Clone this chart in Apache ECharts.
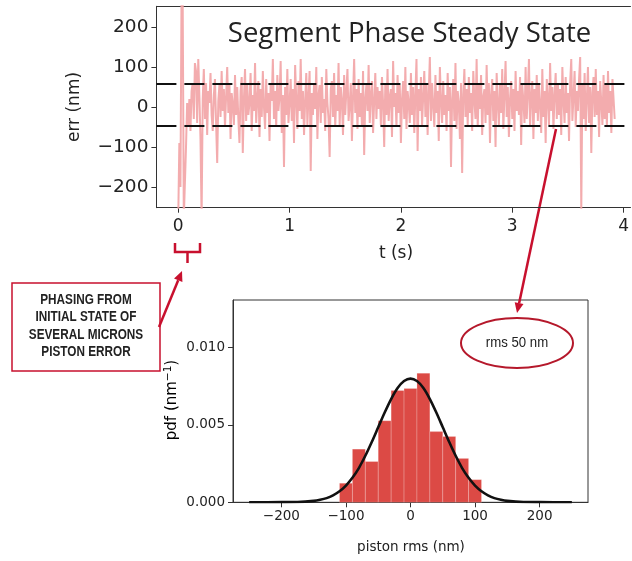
<!DOCTYPE html>
<html><head><meta charset="utf-8">
<script src="https://cdn.jsdelivr.net/npm/echarts@6/dist/echarts.min.js"></script>
<style>html,body{margin:0;padding:0;background:#fff;overflow:hidden}#c{width:632px;height:561px}</style>
</head><body><div id="c"></div>
<script>
// ---- top panel: segment piston error vs time (nm), one sample every 0.01 s ----
const sampleStep = 0.01;
const errValues = [
 -280, -90, -200, 300, 280, -280, -280, -100, 10, -50, 20, -60, 40, 60, -30, 110, 90, -40, 120, 30, -80, -280,
 20, 95, -30, 60, -70, 40, 10, 85, -20, -60, 30, 70, -40, -140, 15, 55, -25, 90, -10, 45,
 -50, 25, 100, -15, 60, -80, 35, 5, -45, 80, -20, 50, -30, -90, 40, 75, -115, 20, 95, -35,
 55, -20, 10, 85, -60, 30, -10, 110, -40, 20, 65, -75, 45, -25, 90, 0, -55, 70, -15, 35,
 -85, 60, 15, 120, -30, 40, -50, 80, -10, 25, 115, -65, 30, -150, 50, -20, 95, -40, 10, 70,
 -35, 45, -90, 105, 20, -55, 65, -10, 120, -30, 40, -70, 15, 85, -45, 25, 90, -160, 35, -20,
 60, -5, 100, -80, 30, 55, -40, 75, -15, 20, -60, 95, 10, -30, -125, 45, 65, -25, 85, -50,
 30, -10, 110, -45, 50, 15, -70, 80, -20, 40, 95, -35, 5, 60, -85, 25, 120, -15, 45, -55,
 70, -25, 35, -50, 90, -120, 20, 55, -10, 105, -40, 30, 65, -65, 15, 85, -30, 50, -5, 40,
 -45, 75, 10, -100, 60, -20, 95, -35, 25, 45, -75, 115, 0, 35, -50, 80, -15, 55, -90, 20,
 65, -30, 100, -55, 40, 10, -40, 85, -20, 50, -65, 30, 120, -110, 45, -10, 75, -45, 25, 90,
 -25, 55, -70, 35, 125, -35, 60, 5, -50, 80, -15, 40, -85, 100, 15, -40, 65, -20, 30, -60,
 85, -10, 50, -150, 20, 70, -35, 110, -55, 40, 10, -80, 60, -165, 30, 95, -25, 45, -45, 75,
 -15, 35, -60, 90, 15, -30, 120, -50, 55, -5, 80, -70, 25, 45, -40, 105, -20, 60, -90, 30,
 70, -35, 40, -100, 85, 10, -45, 60, -15, 95, -55, 30, 115, -25, 50, -75, 20, 65, -30, 45,
 -60, 90, -10, 40, -20, 75, -95, 55, 15, -40, 100, -30, 35, 120, -50, 25, 65, -80, 45, -15,
 80, -35, 55, 5, -65, 95, -25, 40, -90, 70, 20, -45, 110, -10, 50, -55, 30, 85, -30, 60,
 -20, 45, -70, 100, 15, -40, 75, -15, 35, -85, 60, 120, -35, 25, 90, -50, 40, -10, 70, 125,
 -260, 55, -30, 85, -60, 20, 100, -40, 50, -115, 35, 75, -25, 95, -20, 40, -75, 65, 10, -45,
 80, -30, 55, -50, 90, -15, 40, -65, 70, 20, -30
];
const bandLevels = [57, -48];
const timeTicks = [0, 1, 2, 3, 4];
const errTicks = [-200, -100, 0, 100, 200];

// ---- bottom panel: histogram of piston error + fitted normal pdf ----
const binEdges = [-110, -90, -70, -50, -30, -10, 10, 30, 50, 70, 90, 110];
const binHeights = [0.00123, 0.00343, 0.00263, 0.00526, 0.00721, 0.00734, 0.00833, 0.00456, 0.00425, 0.00283, 0.00146];
const gaussX = [-250,-200,-175,-150,-140,-130,-120,-110,-100,-90,-80,-70,-60,-50,-40,-30,-20,-10,0,10,20,30,40,50,60,70,80,90,100,110,120,130,140,150,175,200,250];
const gaussY = [0,0.00001,0.00002,0.00009,0.00016,0.00027,0.00045,0.00071,0.00108,0.00158,0.00221,0.00300,0.00389,0.00484,0.00579,0.00666,0.00737,0.00782,0.00798,0.00782,0.00737,0.00666,0.00579,0.00484,0.00389,0.00300,0.00221,0.00158,0.00108,0.00071,0.00045,0.00027,0.00016,0.00009,0.00002,0.00001,0];
const pistonTicks = [-200, -100, 0, 100, 200];
const pdfTicks = [0, 0.005, 0.010];

const errData = errValues.map((v, i) => [i * sampleStep, v]);
const histData = binHeights.map((h, i) => [binEdges[i], binEdges[i + 1], h]);
const gaussData = gaussX.map((x, i) => [x, gaussY[i]]);

const minus = s => String(s).replace('-', '\u2212');
const FONT = 'DejaVu Sans';
const axisCommon = (fs, margin) => ({
  axisLine: { show: true, onZero: false, lineStyle: { color: '#333', width: 1 } },
  axisTick: { show: true, length: 5, lineStyle: { color: '#333' } },
  splitLine: { show: false },
  axisLabel: { fontFamily: FONT, fontSize: fs, color: '#222', margin: margin }
});

const RED = '#c8102e';
const T_MIN = -0.196, T_MAX = 4.062;
const chart = echarts.init(document.getElementById('c'), null, { renderer: 'canvas' });
chart.setOption({
  animation: false,
  backgroundColor: '#fff',
  grid: [
    { left: 156.4, top: 6.3, right: 0, height: 201.4, show: false },
    { left: 233, top: 300, width: 355, height: 202.3, show: true, borderColor: '#333', borderWidth: 1, backgroundColor: 'transparent' }
  ],
  xAxis: [
    Object.assign(axisCommon(17, 10), { type: 'value', gridIndex: 0, min: T_MIN, max: T_MAX }),
    Object.assign(axisCommon(13.5, 7), { type: 'value', gridIndex: 1, min: -275, max: 275 }),
    { type: 'value', gridIndex: 0, position: 'top', min: T_MIN, max: T_MAX,
      axisLine: { show: true, onZero: false, lineStyle: { color: '#333', width: 1 } }, axisTick: { show: false }, axisLabel: { show: false }, splitLine: { show: false } }
  ],
  yAxis: [
    Object.assign(axisCommon(18.5, 8), { type: 'value', gridIndex: 0, min: -252, max: 252 }),
    Object.assign(axisCommon(13.5, 8), { type: 'value', gridIndex: 1, min: 0, max: 0.01305 })
  ],
  series: [
    {
      type: 'line', xAxisIndex: 0, yAxisIndex: 0, data: errData, showSymbol: false, clip: true,
      lineStyle: { color: '#f2a3a5', width: 2, opacity: 0.9 },
      markLine: {
        silent: true, symbol: 'none', label: { show: false },
        lineStyle: { color: '#111', type: [20, 8], width: 2 },
        data: bandLevels.map(v => ({ yAxis: v }))
      }
    },
    {
      type: 'custom', xAxisIndex: 1, yAxisIndex: 1, data: histData,
      renderItem: (params, api) => {
        const p0 = api.coord([api.value(0), api.value(2)]);
        const p1 = api.coord([api.value(1), 0]);
        return { type: 'rect', shape: { x: p0[0], y: p0[1], width: p1[0] - p0[0], height: p1[1] - p0[1] },
          style: { fill: '#dc4a45', stroke: 'rgba(255,255,255,0.35)', lineWidth: 0.6 } };
      },
      encode: { x: [0, 1], y: 2 }
    },
    {
      type: 'line', xAxisIndex: 1, yAxisIndex: 1, data: gaussData, showSymbol: false, smooth: 0.3,
      lineStyle: { color: '#111', width: 2.6 }
    }
  ],
  graphic: [
    { type: 'text', x: 409.5, y: 34, style: { text: 'Segment Phase Steady State', font: '27.5px "Open Sans"', fill: '#222', align: 'center', verticalAlign: 'middle' } },
    { type: 'text', x: 75, y: 107, rotation: Math.PI / 2, style: { text: 'err (nm)', font: '17px "DejaVu Sans"', fill: '#222', align: 'center', verticalAlign: 'middle' } },
    { type: 'text', x: 396, y: 254, style: { text: 't (s)', font: '17px "DejaVu Sans"', fill: '#222', align: 'center', verticalAlign: 'middle' } },
    { type: 'text', x: 411, y: 547, style: { text: 'piston rms (nm)', font: '13.5px "DejaVu Sans"', fill: '#222', align: 'center', verticalAlign: 'middle' } },
    { type: 'text', x: 172, y: 400, rotation: Math.PI / 2, style: {
        text: '{a|pdf (nm}{s|\u22121}{a|)}', align: 'center', verticalAlign: 'middle',
        rich: { a: { fontFamily: FONT, fontSize: 15, color: '#222' }, s: { fontFamily: FONT, fontSize: 10.5, color: '#222', verticalAlign: 'top', padding: [0, 0, 7, 0] } } } },
    // bracket under t=0
    { type: 'polyline', shape: { points: [[175, 243], [175, 252], [200, 252], [200, 243]] }, style: { stroke: RED, lineWidth: 2.5, fill: null } },
    { type: 'line', shape: { x1: 187.5, y1: 252, x2: 187.5, y2: 263 }, style: { stroke: RED, lineWidth: 2.5 } },
    // left annotation box
    { type: 'rect', shape: { x: 12, y: 283, width: 148, height: 88 }, style: { stroke: RED, lineWidth: 1.5, fill: '#fff' } },
    { type: 'text', x: 86, y: 326, scaleX: 0.84, style: { text: 'PHASING FROM\nINITIAL STATE OF\nSEVERAL MICRONS\nPISTON ERROR', font: 'bold 14px "Liberation Sans"', lineHeight: 17.5, fill: '#222', align: 'center', verticalAlign: 'middle' } },
    // arrow from box to bracket
    { type: 'line', shape: { x1: 159, y1: 327, x2: 178.2, y2: 280.3 }, style: { stroke: RED, lineWidth: 2.5 } },
    { type: 'polygon', shape: { points: [[182, 271], [182.4, 282], [174.0, 278.6]] }, style: { fill: RED } },
    // arrow from time series to rms ellipse
    { type: 'line', shape: { x1: 556, y1: 129, x2: 519.1, y2: 303.2 }, style: { stroke: RED, lineWidth: 2.5 } },
    { type: 'polygon', shape: { points: [[517, 313], [523.5, 304.1], [514.7, 302.3]] }, style: { fill: RED } },
    { type: 'ellipse', shape: { cx: 517, cy: 343, rx: 56, ry: 25 }, style: { stroke: '#b5182b', lineWidth: 2, fill: '#fff' } },
    { type: 'text', x: 517, y: 343, scaleX: 0.88, style: { text: 'rms 50 nm', font: '15px "Liberation Sans"', fill: '#222', align: 'center', verticalAlign: 'middle' } }
  ]
});
// tick labels through customValues
chart.setOption({
  xAxis: [
    { axisTick: { customValues: timeTicks }, axisLabel: { customValues: timeTicks, formatter: v => minus(v) } },
    { axisTick: { customValues: pistonTicks }, axisLabel: { customValues: pistonTicks, formatter: v => minus(v) } },
    {}
  ],
  yAxis: [
    { axisTick: { customValues: errTicks }, axisLabel: { customValues: errTicks, formatter: v => minus(v) } },
    { axisTick: { customValues: pdfTicks }, axisLabel: { customValues: pdfTicks, formatter: v => Number(v).toFixed(3) } }
  ]
});
</script></body></html>
